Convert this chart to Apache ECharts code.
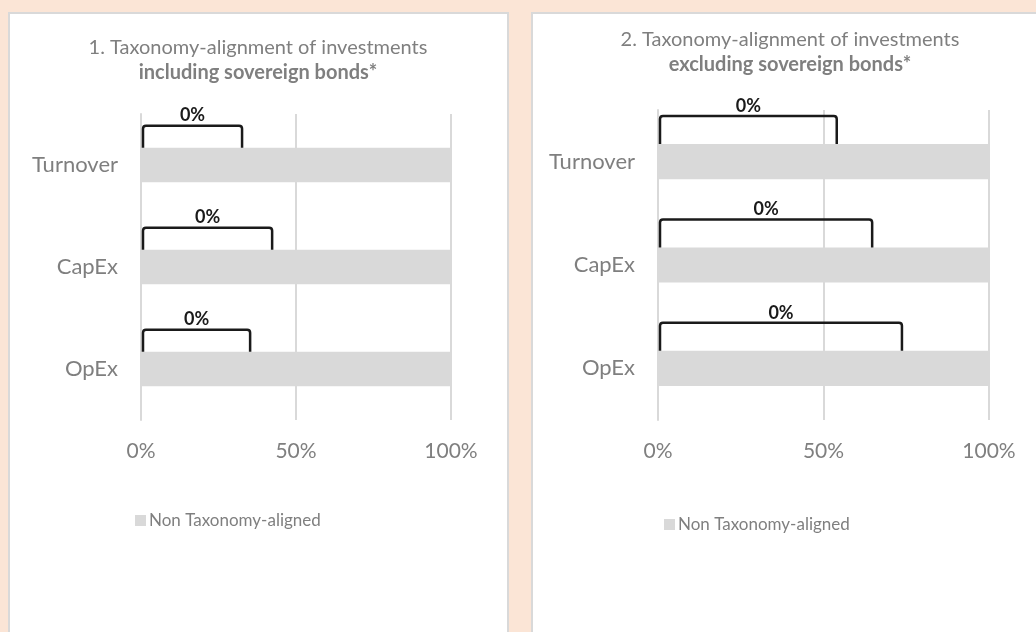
<!DOCTYPE html>
<html>
<head>
<meta charset="utf-8">
<script src="https://cdn.jsdelivr.net/npm/echarts@6/dist/echarts.min.js"></script>
<style>
  html, body { margin: 0; padding: 0; background: #fbe5d6; }
  #chart { width: 1036px; height: 632px; }
</style>
</head>
<body>
<div id="chart"></div>
<script>
// chart data
var categories = ['Turnover', 'CapEx', 'OpEx'];
var nonAlignedIncl = [100, 100, 100];
var nonAlignedExcl = [100, 100, 100];
var alignedIncl = [0, 0, 0];
var alignedExcl = [0, 0, 0];
// right end of each bracket callout, in % of the axis
var bracketEndIncl = [32.6, 42.3, 35.2];
var bracketEndExcl = [54, 64.7, 73.7];
var xTicks = [0, 50, 100];

var FONT = 'Lato, "Open Sans", sans-serif';
var GREY = '#7f7f7f';
var LINE = '#d9d9d9';
var BAR_RATIO = 0.34;

var bracketData = function (ends, aligned) {
    return categories.map(function (c, i) {
        return [ends[i], i, aligned[i]];
    });
};

var renderBracket = function (rise) {
    return function (params, api) {
        var cat = api.value(1);
        var start = api.coord([0, cat]);
        var end = api.coord([api.value(0), cat]);
        var band = api.size([0, 1])[1];
        var x0 = start[0] + 2, x1 = end[0];
        var y0 = start[1] - band * BAR_RATIO / 2;
        var y1 = y0 - rise, r = 3;
        var path = 'M' + x0 + ' ' + y0 + ' L' + x0 + ' ' + (y1 + r) +
            ' Q' + x0 + ' ' + y1 + ' ' + (x0 + r) + ' ' + y1 +
            ' L' + (x1 - r) + ' ' + y1 +
            ' Q' + x1 + ' ' + y1 + ' ' + x1 + ' ' + (y1 + r) +
            ' L' + x1 + ' ' + y0;
        return {
            type: 'group',
            children: [{
                type: 'path',
                shape: { pathData: path },
                style: { fill: null, stroke: '#1a1a1a', lineWidth: 2.5 }
            }, {
                type: 'text',
                style: {
                    text: api.value(2) + '%',
                    x: (x0 + x1) / 2,
                    y: y1 - 10,
                    align: 'center',
                    verticalAlign: 'middle',
                    font: 'bold 18px ' + FONT,
                    fill: '#1a1a1a'
                }
            }]
        };
    };
};

var xAxisOpt = function (idx) {
    return {
        type: 'value',
        gridIndex: idx,
        min: xTicks[0],
        max: xTicks[xTicks.length - 1],
        interval: xTicks[1] - xTicks[0],
        axisLine: { show: false },
        axisTick: { show: false },
        splitLine: { lineStyle: { color: LINE, width: 2 } },
        axisLabel: {
            formatter: '{value}%',
            color: GREY,
            fontSize: 21,
            fontFamily: FONT,
            margin: 21
        }
    };
};

var yAxisOpt = function (idx) {
    return {
        type: 'category',
        gridIndex: idx,
        inverse: true,
        data: categories,
        axisLine: { lineStyle: { color: LINE, width: 2 } },
        axisTick: { length: 7, lineStyle: { color: LINE, width: 2 } },
        axisLabel: {
            color: GREY,
            fontSize: 22,
            fontFamily: FONT,
            margin: 23
        }
    };
};

var titleOpt = function (x, y, line1, line2) {
    return {
        text: line1 + '\n{b|' + line2 + '}',
        left: x,
        top: y,
        padding: 0,
        textAlign: 'center',
        textStyle: {
            color: GREY,
            fontSize: 20,
            fontWeight: 'normal',
            fontFamily: FONT,
            lineHeight: 25,
            rich: {
                b: { color: GREY, fontSize: 20, fontWeight: 'bold', fontFamily: FONT, lineHeight: 25 }
            }
        }
    };
};

var legendOpt = function (x, y) {
    return {
        left: x,
        top: y,
        padding: 0,
        data: ['Non Taxonomy-aligned'],
        icon: 'rect',
        itemWidth: 11,
        itemHeight: 11,
        itemGap: 4,
        textStyle: { color: GREY, fontSize: 17, fontFamily: FONT, padding: [0, 0, 0, -2] }
    };
};

var option = {
    backgroundColor: '#fbe5d6',
    animation: false,
    graphic: {
        elements: [{
            type: 'rect',
            z: -10,
            shape: { x: 9, y: 13, width: 499, height: 640 },
            style: { fill: '#ffffff', stroke: LINE, lineWidth: 2 }
        }, {
            type: 'rect',
            z: -10,
            shape: { x: 532, y: 13, width: 520, height: 640 },
            style: { fill: '#ffffff', stroke: LINE, lineWidth: 2 }
        }]
    },
    title: [
        titleOpt(258, 35, '1. Taxonomy-alignment of investments', 'including sovereign bonds*'),
        titleOpt(790, 27, '2. Taxonomy-alignment of investments', 'excluding sovereign bonds*')
    ],
    legend: [legendOpt(135, 512), legendOpt(664, 516)],
    grid: [
        { left: 141, top: 114, width: 310, height: 306 },
        { left: 658, top: 110, width: 331, height: 310 }
    ],
    xAxis: [xAxisOpt(0), xAxisOpt(1)],
    yAxis: [yAxisOpt(0), yAxisOpt(1)],
    series: [{
        name: 'Non Taxonomy-aligned',
        type: 'bar',
        xAxisIndex: 0,
        yAxisIndex: 0,
        barWidth: (BAR_RATIO * 100) + '%',
        itemStyle: { color: LINE },
        data: nonAlignedIncl
    }, {
        name: 'Non Taxonomy-aligned',
        type: 'bar',
        xAxisIndex: 1,
        yAxisIndex: 1,
        barWidth: (BAR_RATIO * 100) + '%',
        itemStyle: { color: LINE },
        data: nonAlignedExcl
    }, {
        name: 'Taxonomy-aligned',
        type: 'custom',
        xAxisIndex: 0,
        yAxisIndex: 0,
        renderItem: renderBracket(22),
        data: bracketData(bracketEndIncl, alignedIncl),
        z: 5
    }, {
        name: 'Taxonomy-aligned',
        type: 'custom',
        xAxisIndex: 1,
        yAxisIndex: 1,
        renderItem: renderBracket(28),
        data: bracketData(bracketEndExcl, alignedExcl),
        z: 5
    }]
};

echarts.init(document.getElementById('chart')).setOption(option);
</script>
</body>
</html>
